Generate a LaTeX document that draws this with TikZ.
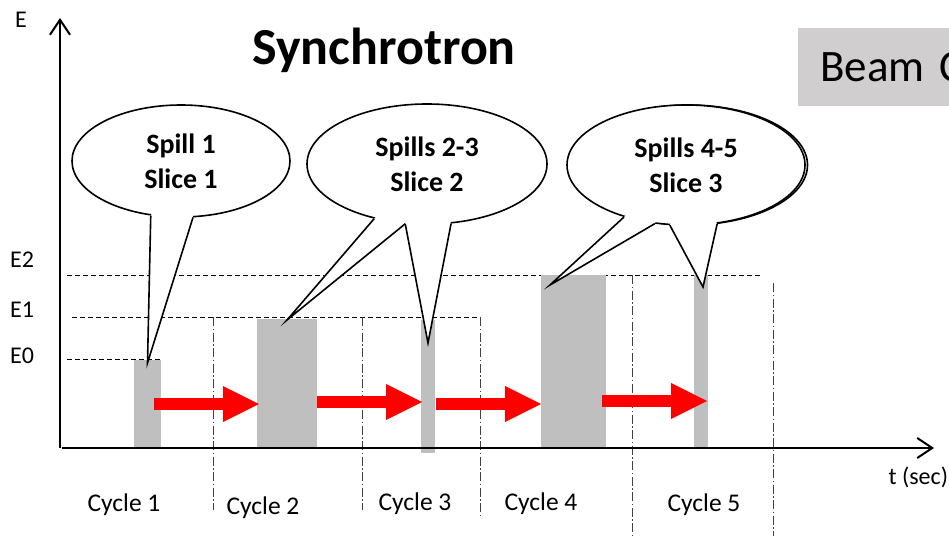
\documentclass[tikz,border=0pt]{standalone}
\usepackage{fontspec}
\setmainfont{Carlito}
\usetikzlibrary{arrows.meta,shapes.geometric,calc}
\definecolor{bargray}{HTML}{BFBFBF}
\definecolor{beamgray}{HTML}{D0CECE}
\definecolor{gridgray}{HTML}{404040}
\newcommand{\sizefont}[2]{\fontsize{#1}{#2}\selectfont}
\newcommand{\callptr}[4]{%
  \fill[white] ($(#1.#2)!0.12!(#1.center)$) -- (#1.#2) -- (#4) -- (#1.#3) -- ($(#1.#3)!0.12!(#1.center)$) -- cycle;
  \draw[bubble line] (#1.#2) -- (#4) -- (#1.#3);}
\begin{document}
\begin{tikzpicture}[x=1pt,y=1pt,
  bubble/.style={ellipse,draw,fill=white,line width=1.6pt,inner sep=0pt,align=center,font=\bfseries\sizefont{28}{35}},
  bubble line/.style={line width=1.6pt,miter limit=25},
  bar/.style={fill=bargray,inner sep=0pt,outer sep=0pt,anchor=south west},
  elevel/.style={dash pattern=on 5pt off 3pt,line width=0.9pt},
  cycleline/.style={gridgray,line width=1pt,dash pattern=on 9pt off 2.5pt on 1.5pt off 2.5pt},
  eaxis/.style={line width=2pt,-{Straight Barb[length=15pt,width=20pt]}},
  flow/.style={red,line width=11.5pt,-{Triangle[length=36pt,width=36pt,line width=0pt]}},
  lab/.style={font=\sizefont{24}{28}},
  cyc/.style={font=\sizefont{25.5}{30}}]
  \useasboundingbox (0,0) rectangle (949,536);
  \clip (0,0) rectangle (949,536);

  \node[font=\bfseries\sizefont{52}{60},anchor=base] (title) at (384,471) {Synchrotron};
  \node[fill=beamgray,anchor=north west,minimum width=200pt,minimum height=78pt,inner xsep=22pt,
        text width=156pt,align=left,font=\sizefont{45}{54}] (beam) at (798,508) {Beam C};

  \draw[elevel] (67,261) -- (762,261);
  \draw[elevel] (72,219) -- (480,219);
  \draw[elevel] (67,177) -- (161,177);
  \foreach \x/\a/\b in {213/219/26,362/219/26,480/219/21,632/261/0,773/253/0}
    \draw[cycleline] (\x,\a) -- (\x,\b);

  \node[bar,minimum width=27pt,minimum height=87pt] (bar1) at (134,89) {};
  \node[bar,minimum width=60pt,minimum height=128pt] (bar2) at (257,89) {};
  \node[bar,minimum width=14pt,minimum height=133pt] (bar3) at (421,83) {};
  \node[bar,minimum width=65pt,minimum height=172pt] (bar4) at (541,89) {};
  \node[bar,minimum width=14pt,minimum height=172pt] (bar5) at (694,89) {};

  \coordinate (O) at (60,88);
  \draw[eaxis] (O) -- (60,518);
  \draw[eaxis] ([xshift=2pt]O) -- (934,88);

  \draw[flow] ([xshift=-7pt,yshift=43pt]bar1.south east) -- ([xshift=2pt,yshift=43pt]bar2.south west);
  \draw[flow] ([yshift=45pt]bar2.south east) -- ([xshift=1pt,yshift=51pt]bar3.south west);
  \draw[flow] ([xshift=1pt,yshift=49pt]bar3.south east) -- ([yshift=43pt]bar4.south west);
  \draw[flow] ([xshift=-4pt,yshift=46pt]bar4.south east) -- ([xshift=-1pt,yshift=46pt]bar5.south east);

  \coordinate (tip1) at ([yshift=-3pt]bar1.north);
  \coordinate (tip2) at ([yshift=-1pt]bar2.north);
  \coordinate (tip3) at ([yshift=-23pt]bar3.north);
  \coordinate (tip4) at ([xshift=9pt,yshift=-10pt]bar4.north west);
  \coordinate (tip5) at ([xshift=2pt,yshift=-12pt]bar5.north);

  \node[bubble,minimum width=218pt,minimum height=112pt] (c1) at (181,375) {Spill 1\\Slice 1};
  \callptr{c1}{241}{282.5}{tip1}
  \node[bubble,minimum width=240pt,minimum height=120pt] (c2) at (427,372) {Spills 2-3\\Slice 2};
  \callptr{c2}{226}{250}{tip2}
  \callptr{c2}{250}{292}{tip3}
  \node[bubble,minimum width=238pt,minimum height=120pt] (c3s) at (688.5,371) {};
  \node[bubble,minimum width=238pt,minimum height=120pt] (c3) at (686,371) {Spills 4-5\\Slice 3};
  \callptr{c3}{220}{242}{tip4}
  \callptr{c3}{255}{298}{tip5}

  \node[lab] (eLab) at (21,516) {E};
  \node[lab] (e2) at (22,276) {E2};
  \node[lab] (e1) at (22,226) {E1};
  \node[lab] (e0) at (22,180) {E0};
  \node[lab,anchor=base west] (tLab) at (885,52) {t (sec)};

  \node[cyc] (cyc1) at (124,31) {Cycle 1};
  \node[cyc] (cyc2) at (263,28) {Cycle 2};
  \node[cyc] (cyc3) at (415,32) {Cycle 3};
  \node[cyc] (cyc4) at (541,32) {Cycle 4};
  \node[cyc] (cyc5) at (704,31) {Cycle 5};
\end{tikzpicture}
\end{document}
